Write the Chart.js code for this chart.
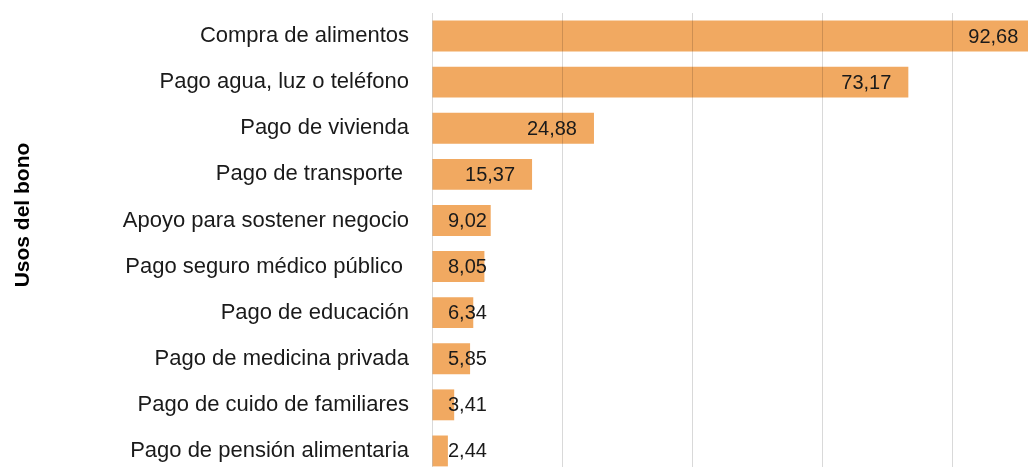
<!DOCTYPE html>
<html>
<head>
<meta charset="utf-8">
<script src="https://cdn.jsdelivr.net/npm/chart.js@4.4.1/dist/chart.umd.min.js"></script>
<style>
  html, body { margin: 0; padding: 0; background: #ffffff; }
  #wrap { width: 1028px; height: 467px; overflow: hidden; position: relative; }
  canvas { display: block; }
</style>
</head>
<body>
<div id="wrap"><canvas id="c" width="1100" height="480"></canvas></div>
<script>
const categories = [
  "Compra de alimentos",
  "Pago agua, luz o teléfono",
  "Pago de vivienda",
  "Pago de transporte ",
  "Apoyo para sostener negocio",
  "Pago seguro médico público ",
  "Pago de educación",
  "Pago de medicina privada",
  "Pago de cuido de familiares",
  "Pago de pensión alimentaria"
];
const values = [92.68, 73.17, 24.88, 15.37, 9.02, 8.05, 6.34, 5.85, 3.41, 2.44];
const axisTitle = "Usos del bono";
const xTicks = [0, 20, 40, 60, 80, 100];

const fmt = v => v.toFixed(2).replace('.', ',');

const labelPlugin = {
  id: 'barLabels',
  afterDraw(chart) {
    const ctx = chart.ctx;
    const meta = chart.getDatasetMeta(0);
    const area = chart.chartArea;
    ctx.save();
    ctx.font = '20px "Liberation Sans", Arial, sans-serif';
    ctx.fillStyle = '#1a1a1a';
    ctx.textAlign = 'right';
    ctx.textBaseline = 'middle';
    meta.data.forEach((bar, i) => {
      const t = fmt(values[i]);
      const w = ctx.measureText(t).width;
      const x = Math.max(bar.x - 17, area.left + 16 + w);
      ctx.fillText(t, x, bar.y + 1);
    });
    ctx.restore();
  }
};

const titlePlugin = {
  id: 'sideTitle',
  afterDraw(chart) {
    const ctx = chart.ctx;
    ctx.save();
    ctx.font = 'bold 21px "Liberation Sans", Arial, sans-serif';
    ctx.fillStyle = '#000000';
    ctx.textAlign = 'center';
    ctx.textBaseline = 'middle';
    ctx.translate(23, 215);
    ctx.rotate(-Math.PI / 2);
    ctx.fillText(axisTitle, 0, 0);
    ctx.restore();
  }
};

new Chart(document.getElementById('c'), {
  type: 'bar',
  data: {
    labels: categories,
    datasets: [{
      data: values,
      backgroundColor: '#F1A961',
      borderWidth: 0,
      categoryPercentage: 1,
      barPercentage: 0.67
    }]
  },
  options: {
    indexAxis: 'y',
    responsive: false,
    animation: false,
    layout: { padding: { left: 0, right: 17, top: 13, bottom: 6 } },
    plugins: {
      legend: { display: false },
      tooltip: { enabled: false }
    },
    scales: {
      x: {
        min: 0,
        max: 100,
        afterBuildTicks: s => { s.ticks = xTicks.map(v => ({ value: v })); },
        afterFit: s => { s.height = 0; s.paddingLeft = 0; s.paddingRight = 0; },
        ticks: { display: false },
        grid: { color: 'rgba(0,0,0,0.15)', lineWidth: 1, drawTicks: false, z: 1 },
        border: { display: false }
      },
      y: {
        afterFit: s => { s.width = 432; s.paddingTop = 0; s.paddingBottom = 0; },
        ticks: {
          color: '#1a1a1a',
          padding: 23,
          font: { family: '"Liberation Sans", Arial, sans-serif', size: 22 }
        },
        grid: { display: false, drawTicks: false },
        border: { display: false }
      }
    }
  },
  plugins: [labelPlugin, titlePlugin]
});
</script>
</body>
</html>
